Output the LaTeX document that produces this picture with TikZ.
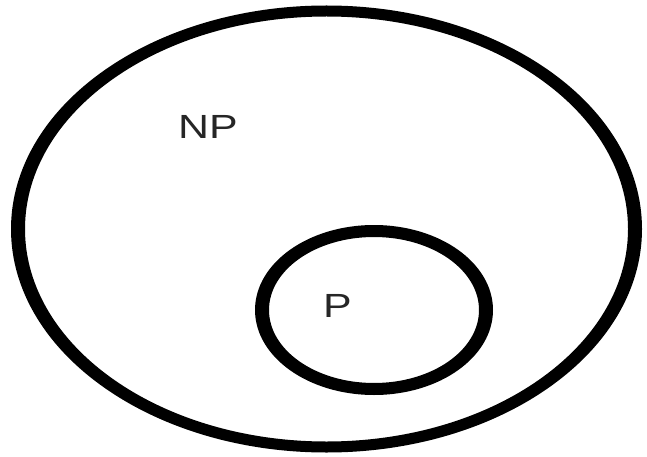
\documentclass[tikz,border=0pt]{standalone}
\usepackage{fontspec}
\setmainfont{Liberation Sans}
\begin{document}
\begin{tikzpicture}[x=1pt,y=-1pt,
  ring/.style={fill=black,even odd rule},
  lbl/.style={inner sep=0pt,font=\fontsize{33.5}{36}\selectfont,text=black!85,xscale=1.28}]
\useasboundingbox (0,0) rectangle (647,457);
\fill[white] (0,0) rectangle (647,457);
\fill[ring] (326.5,229) ellipse [x radius=315.5, y radius=223.5]
            (326.5,229) ellipse [x radius=301.5, y radius=212.5];
\fill[ring] (374,310) ellipse [x radius=119, y radius=85]
            (374,310) ellipse [x radius=105, y radius=73];
\node[lbl] (np) at (208,127) {NP};
\node[lbl] (p) at (337.5,306) {P};
\end{tikzpicture}
\end{document}
